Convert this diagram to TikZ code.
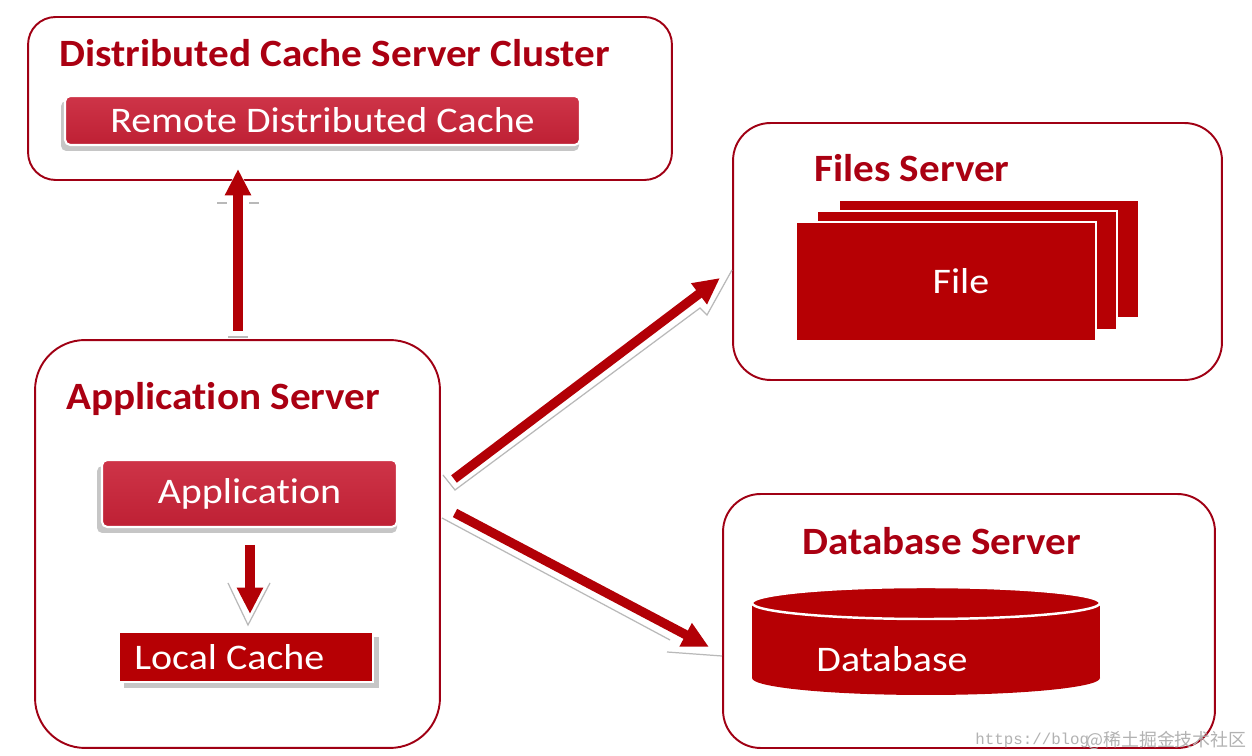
\documentclass[tikz,border=0pt]{standalone}
\usepackage{fontspec}
\setmainfont[Ligatures=NoCommon]{Carlito}
\newfontfamily\titlefont[FakeStretch=1.065,Ligatures=NoCommon]{Carlito}
\newfontfamily\boxfont[FakeStretch=1.11,Ligatures=NoCommon]{Carlito}
\newfontfamily\cjkfont{Noto Sans CJK SC}
\newfontfamily\wmmono{Liberation Mono}
\usetikzlibrary{arrows.meta}
\definecolor{framered}{RGB}{160,0,20}
\definecolor{titlered}{RGB}{170,0,18}
\definecolor{crimtop}{RGB}{206,52,72}
\definecolor{crimbot}{RGB}{190,32,52}
\definecolor{deepred}{RGB}{182,0,4}
\definecolor{arrowred}{RGB}{178,0,6}
\begin{document}
\begin{tikzpicture}[x=0.02cm,y=-0.02cm,
  outer/.style={draw=framered, line width=1.1pt, fill=white, inner sep=0pt},
  title/.style={text=titlered, font=\titlefont\bfseries\fontsize{22}{26}\selectfont, anchor=west, inner sep=0pt},
  boxtext/.style={text=white, font=\boxfont\fontsize{20.5}{24}\selectfont},
  crimbox/.style={boxtext, top color=crimtop, bottom color=crimbot, draw=white, line width=1.2pt, rounded corners=3pt, inner sep=0pt},
  redbox/.style={boxtext, fill=deepred, draw=white, line width=1.2pt, inner sep=0pt},
  shadowbox/.style={fill=gray!45, rounded corners=3pt},
  halo/.style={draw=white, line width=8pt, -{Triangle[length=18pt,width=19pt]}},
  bigarrow/.style={draw=arrowred, line width=5.3pt, -{Triangle[length=15pt,width=14pt]}},
  ghost/.style={draw=gray!55, line width=0.7pt}
]
\useasboundingbox (0,0) rectangle (1252,756);
\fill[white] (0,0) rectangle (1252,756);

% outer server boxes
\node[outer, minimum width=12.88cm, minimum height=3.26cm, rounded corners=0.55cm] (dc) at (350,98.5) {};
\node[outer, minimum width=8.1cm, minimum height=8.16cm, rounded corners=1.0cm] (app) at (237.5,544) {};
\node[outer, minimum width=9.78cm, minimum height=5.14cm, rounded corners=0.75cm] (fs) at (977.5,251.5) {};
\node[outer, minimum width=9.84cm, minimum height=5.08cm, rounded corners=0.75cm] (db) at (969,621) {};

% titles
\node[title] (dct) at (59,53) {Distributed Cache Server Cluster};
\node[title] (appt) at (66,399) {Application Server};
\node[title] (fst) at (814,168) {Files Server};
\node[title] (dbt) at (802,541) {Database Server};

% remote distributed cache
\fill[shadowbox] (61,101) rectangle (579,151);
\node[crimbox, minimum width=10.3cm, minimum height=0.98cm] (remote) at (322.5,120.5) {Remote Distributed Cache};

% application
\fill[shadowbox] (97,466) rectangle (397,533);
\node[crimbox, minimum width=5.9cm, minimum height=1.34cm] (appl) at (249.5,493.5) {Application};

% local cache
\fill[gray!45] (124,637) rectangle (379,688);
\node[redbox, minimum width=5.08cm, minimum height=1.0cm,
  label={[boxtext, anchor=west, inner sep=0pt, xshift=0.32cm]west:Local Cache}] (local) at (246,657) {};

% files stack
\node[redbox, minimum width=6.0cm, minimum height=2.38cm] (fileC) at (989,259) {};
\node[redbox, minimum width=6.0cm, minimum height=2.38cm] (fileB) at (967,270.5) {};
\node[redbox, minimum width=6.0cm, minimum height=2.38cm] (fileA) at (946,281.5) {\hspace*{0.6cm}File};

% database cylinder
\fill[deepred] (926,678) ellipse [x radius=174, y radius=17];
\fill[deepred] (752,603) rectangle (1100,678);
\draw[white, line width=1.4pt, fill=deepred] (926,603) ellipse [x radius=174, y radius=16];
\node[boxtext, inner sep=0pt] (dbtext) at (892,659) {Database};

% arrow end points
\coordinate (upS) at (238,331);
\coordinate (upE) at (238,169);
\coordinate (fa1) at (454,479);
\coordinate (fa2) at (720,278);
\coordinate (da1) at (455,513);
\coordinate (da2) at (709,647);
\coordinate (la1) at (250,545);
\coordinate (la2) at (250,614);

% faint shadow outlines of arrows
\draw[ghost] (443,475) -- (455,490) -- (700,308) -- (707,315) -- (732,270);
\draw[ghost] (442,518) -- (670,640);
\draw[ghost] (667,652) -- (722,656);
\draw[ghost] (228,583) -- (248,625) -- (270,583);
\draw[ghost] (217,203) -- (227,203);
\draw[ghost] (249,203) -- (259,203);
\draw[ghost] (228,337) -- (248,337);

% arrows
\draw[halo] (upS) -- (upE);
\draw[bigarrow] (upS) -- (upE);
\draw[halo] (fa1) -- (fa2);
\draw[bigarrow] (fa1) -- (fa2);
\draw[halo] (da1) -- (da2);
\draw[bigarrow] (da1) -- (da2);
\draw[bigarrow] (la1) -- (la2);

% watermark
\node[text=gray!60, font=\wmmono\fontsize{9}{11}\selectfont, anchor=west, inner sep=0pt] (wm1) at (975,740) {https://blog};
\node[text=gray!60, font=\cjkfont\fontsize{10.2}{12}\selectfont, anchor=west, inner sep=0pt] (wm2) at (1086,740) {@稀土掘金技术社区};
\end{tikzpicture}
\end{document}
